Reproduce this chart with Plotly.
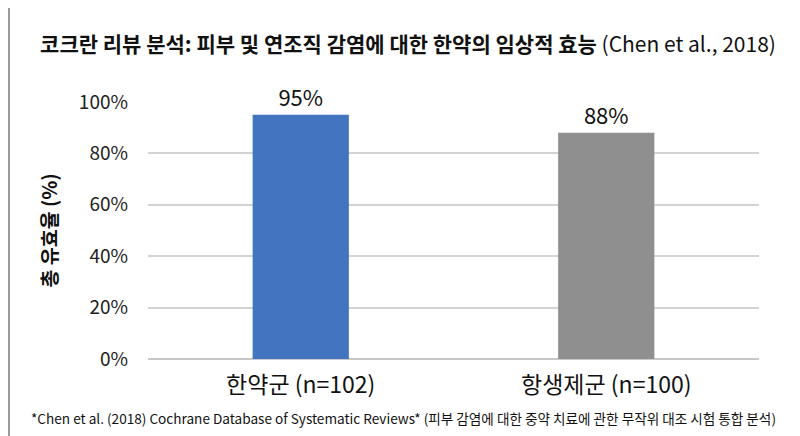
import plotly.graph_objects as go

# data
groups = ["한약군 (n=102)", "항생제군 (n=100)"]
efficacy = [95, 88]
bar_colors = ["#4274bf", "#8f8f8f"]
y_ticks = [0, 20, 40, 60, 80, 100]
y_tick_text = [f"{t}%" for t in y_ticks]

FONT = "Noto Sans CJK KR"
L, R, T, B = 140, 49, 94, 85
plot_w = 800 - L - R

fig = go.Figure(
    go.Bar(
        x=groups,
        y=efficacy,
        marker=dict(color=bar_colors, line=dict(width=0)),
        text=[f"{v}%" for v in efficacy],
        textposition="outside",
        textfont=dict(size=22, color="#111111", family=FONT),
        cliponaxis=False,
        width=0.315,
    )
)

fig.update_layout(
    width=800,
    height=436,
    paper_bgcolor="white",
    plot_bgcolor="white",
    font=dict(family=FONT, color="#111111"),
    margin=dict(l=L, r=R, t=T, b=B),
    showlegend=False,
    title=dict(
        text="<b>코크란 리뷰 분석: 피부 및 연조직 감염에 대한 한약의 임상적 효능</b> (Chen et al., 2018)",
        x=0.5,
        xanchor="center",
        y=0.915,
        yanchor="middle",
        font=dict(size=21, family=FONT, color="#111111"),
    ),
)

fig.update_yaxes(
    automargin=False,
    range=[0, 100],
    tickmode="array",
    tickvals=y_ticks,
    ticktext=y_tick_text,
    tickfont=dict(size=19, family=FONT, color="#222222"),
    showgrid=True,
    gridcolor="#d3d3d3",
    gridwidth=1.5,
    zeroline=True,
    zerolinecolor="#c8c8c8",
    zerolinewidth=1.5,
    ticklabelstandoff=19,
    title=dict(text="<b>총 유효율 (%)</b>", font=dict(size=19.5, family=FONT), standoff=16),
)

fig.update_xaxes(
    automargin=False,
    tickfont=dict(size=23, family=FONT, color="#111111"),
    showline=False,
    ticklabelstandoff=10,
)

fig.add_annotation(
    text="*Chen et al. (2018) Cochrane Database of Systematic Reviews* (피부 감염에 대한 중약 치료에 관한 무작위 대조 시험 통합 분석)",
    xref="paper",
    yref="paper",
    x=(395 - L) / plot_w,
    xanchor="center",
    y=-0.23,
    yanchor="middle",
    showarrow=False,
    font=dict(size=13.6, family=FONT, color="#111111"),
)

# thin frame on the left edge as in the reference
fig.add_shape(
    type="line", xref="paper", yref="paper",
    x0=-(L - 1) / plot_w, x1=-(L - 1) / plot_w, y0=-1, y1=2,
    line=dict(color="#9a9a9a", width=2),
)

fig.write_html("out.html")
